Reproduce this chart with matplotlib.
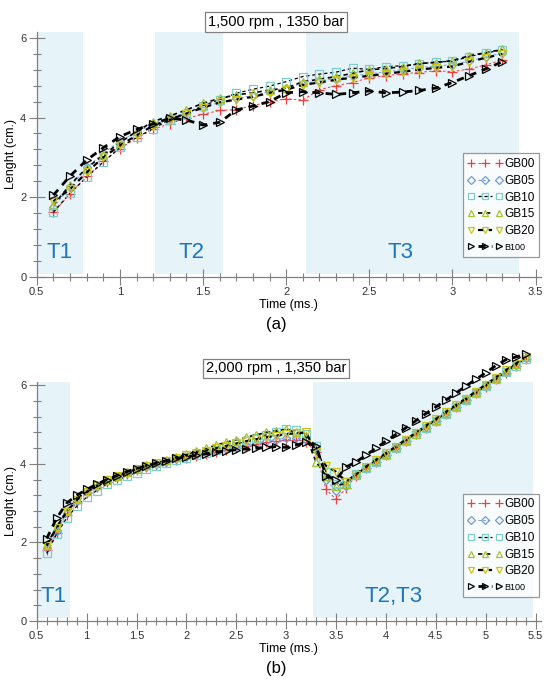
import matplotlib
matplotlib.use("Agg")
import matplotlib.pyplot as plt
import numpy as np
from matplotlib.ticker import MultipleLocator
from matplotlib.legend_handler import HandlerLine2DCompound

plt.rcParams['font.family'] = ['Liberation Sans', 'DejaVu Sans']

# ---- data ----
t_a = [0.6, 0.7, 0.8, 0.9, 1.0, 1.1, 1.2, 1.3, 1.4, 1.5, 1.6, 1.7, 1.8, 1.9,
       2.0, 2.1, 2.2, 2.3, 2.4, 2.5, 2.6, 2.7, 2.8, 2.9, 3.0, 3.1, 3.2, 3.3]
gb00_a = [1.62, 2.08, 2.52, 2.90, 3.22, 3.48, 3.70, 3.85, 3.98, 4.08, 4.18, 4.20, 4.30, 4.40,
          4.47, 4.44, 4.70, 4.80, 4.88, 5.00, 5.05, 5.10, 5.13, 5.18, 5.15, 5.22, 5.32, 5.45]
gb05_a = [1.75, 2.25, 2.75, 3.10, 3.42, 3.62, 3.85, 4.00, 4.12, 4.25, 4.38, 4.48, 4.55, 4.65,
          4.75, 4.85, 4.92, 4.98, 5.05, 5.10, 5.15, 5.20, 5.25, 5.30, 5.32, 5.42, 5.52, 5.62]
gb10_a = [1.62, 2.10, 2.50, 2.88, 3.25, 3.50, 3.72, 3.95, 4.10, 4.30, 4.45, 4.61, 4.71, 4.79,
          4.90, 5.03, 5.09, 5.14, 5.24, 5.21, 5.28, 5.30, 5.34, 5.40, 5.41, 5.53, 5.62, 5.70]
gb15_a = [1.80, 2.31, 2.73, 3.06, 3.37, 3.65, 3.90, 4.04, 4.19, 4.36, 4.48, 4.57, 4.62, 4.69,
          4.74, 4.90, 4.96, 5.03, 5.11, 5.20, 5.23, 5.28, 5.36, 5.38, 5.43, 5.55, 5.63, 5.71]
gb20_a = [1.90, 2.20, 2.62, 3.00, 3.30, 3.55, 3.80, 3.95, 4.10, 4.25, 4.38, 4.45, 4.52, 4.62,
          4.70, 4.82, 4.88, 4.95, 5.00, 5.05, 5.10, 5.15, 5.20, 5.25, 5.28, 5.40, 5.50, 5.60]
b100_a = [2.05, 2.53, 2.93, 3.24, 3.52, 3.70, 3.84, 3.98, 3.94, 3.81, 3.88, 4.19, 4.29, 4.40,
          4.62, 4.65, 4.62, 4.58, 4.62, 4.67, 4.62, 4.64, 4.68, 4.74, 4.88, 5.05, 5.22, 5.40]

t_b = [0.6, 0.7, 0.8, 0.9, 1.0, 1.1, 1.2, 1.3, 1.4, 1.5, 1.6, 1.7, 1.8, 1.9, 2.0, 2.1, 2.2,
       2.3, 2.4, 2.5, 2.6, 2.7, 2.8, 2.9, 3.0, 3.1, 3.2, 3.3, 3.4, 3.5, 3.6, 3.7, 3.8, 3.9,
       4.0, 4.1, 4.2, 4.3, 4.4, 4.5, 4.6, 4.7, 4.8, 4.9, 5.0, 5.1, 5.2, 5.3, 5.4]
gb00_b = [1.80, 2.25, 2.70, 3.00, 3.25, 3.40, 3.55, 3.65, 3.75, 3.85, 3.92, 3.98, 4.05, 4.10,
          4.15, 4.20, 4.25, 4.30, 4.35, 4.40, 4.45, 4.50, 4.55, 4.58, 4.62, 4.62, 4.55, 4.30,
          3.35, 3.10, 3.38, 3.70, 3.90, 4.05, 4.22, 4.40, 4.58, 4.75, 4.92, 5.10, 5.28, 5.45,
          5.62, 5.80, 5.97, 6.15, 6.32, 6.50, 6.68]
gb05_b = [1.85, 2.30, 2.75, 3.05, 3.28, 3.42, 3.56, 3.66, 3.76, 3.86, 3.93, 4.00, 4.06, 4.12,
          4.18, 4.23, 4.28, 4.33, 4.38, 4.43, 4.48, 4.53, 4.58, 4.62, 4.66, 4.66, 4.60, 4.40,
          3.60, 3.30, 3.45, 3.72, 3.92, 4.08, 4.25, 4.42, 4.60, 4.78, 4.95, 5.12, 5.30, 5.47,
          5.64, 5.82, 6.00, 6.17, 6.35, 6.52, 6.70]
gb10_b = [1.72, 2.22, 2.62, 2.92, 3.15, 3.32, 3.48, 3.58, 3.68, 3.78, 3.88, 3.95, 4.02, 4.10,
          4.16, 4.22, 4.28, 4.35, 4.42, 4.50, 4.58, 4.66, 4.74, 4.82, 4.88, 4.86, 4.75, 4.45,
          3.80, 3.50, 3.55, 3.75, 3.90, 4.05, 4.22, 4.40, 4.58, 4.75, 4.92, 5.10, 5.27, 5.45,
          5.62, 5.80, 5.98, 6.15, 6.33, 6.50, 6.68]
gb15_b = [1.95, 2.40, 2.80, 3.10, 3.30, 3.46, 3.60, 3.70, 3.80, 3.88, 3.96, 4.03, 4.10, 4.17,
          4.24, 4.32, 4.40, 4.48, 4.55, 4.62, 4.68, 4.74, 4.80, 4.85, 4.88, 4.80, 4.70, 4.05,
          3.70, 3.45, 3.50, 3.72, 3.92, 4.08, 4.25, 4.42, 4.60, 4.77, 4.95, 5.12, 5.30, 5.47,
          5.65, 5.82, 6.00, 6.18, 6.36, 6.54, 6.72]
gb20_b = [1.92, 2.38, 2.78, 3.08, 3.28, 3.44, 3.58, 3.68, 3.78, 3.87, 3.95, 4.02, 4.08, 4.15,
          4.22, 4.28, 4.34, 4.40, 4.46, 4.52, 4.58, 4.63, 4.68, 4.72, 4.76, 4.78, 4.80, 4.30,
          3.95, 3.80, 3.55, 3.73, 3.93, 4.10, 4.27, 4.44, 4.62, 4.79, 4.97, 5.14, 5.32, 5.49,
          5.66, 5.84, 6.02, 6.20, 6.38, 6.55, 6.72]
b100_b = [2.10, 2.62, 3.00, 3.20, 3.35, 3.48, 3.60, 3.70, 3.80, 3.88, 3.95, 4.02, 4.08, 4.14,
          4.18, 4.22, 4.26, 4.30, 4.33, 4.36, 4.38, 4.40, 4.42, 4.44, 4.42, 4.48, 4.55, 4.45,
          3.70, 3.60, 3.92, 4.05, 4.22, 4.40, 4.58, 4.75, 4.92, 5.10, 5.28, 5.45, 5.62, 5.80,
          5.98, 6.15, 6.32, 6.50, 6.65, 6.72, 6.80]

labels = ['GB00', 'GB05', 'GB10', 'GB15', 'GB20', 'B100']

# phase windows (start, end, label, label x, label y)
phases_a = [(0.5, 0.78, 'T1', 0.64, 0.62), (1.21, 1.62, 'T2', 1.43, 0.62),
            (2.12, 3.40, 'T3', 2.69, 0.62)]
phases_b = [(0.5, 0.83, 'T1', 0.67, 0.62), (3.265, 5.47, 'T2,T3', 4.08, 0.62)]

# marker / line styles per fuel
styles = [
    dict(marker='+', color='#f03c3c', mec='#f03c3c', mfc='none', lw=0.7, ms=7),
    dict(marker='D', color='#6f9be0', mec='#6f9be0', mfc='none', lw=0.7, ms=4.2),
    dict(marker='s', color='black', mec='#7fcccc', mfc='none', lw=0.9, ms=5.5),
    dict(marker='^', color='black', mec='#a2c232', mfc='none', lw=1.2, ms=5.5),
    dict(marker='v', color='black', mec='#c8c41c', mfc='none', lw=1.6, ms=5.5),
    dict(marker='>', color='black', mec='black', mfc='none', lw=2.0, ms=5.5),
]


class MidLine(HandlerLine2DCompound):
    # legend key: marker, short line with marker, marker
    def create_artists(self, legend, orig_handle, xdescent, ydescent, width, height,
                       fontsize, trans):
        arts = super().create_artists(legend, orig_handle, xdescent, ydescent, width,
                                      height, fontsize, trans)
        line = arts[0]
        y = line.get_ydata()[0]
        line.set_data([width * 0.3 - xdescent, width * 0.7 - xdescent], [y, y])
        return arts


fig = plt.figure(figsize=(5.46, 6.81), dpi=100)
ax1 = fig.add_axes([0.0673, 0.5935, 0.9236, 0.3602])
ax2 = fig.add_axes([0.0673, 0.0881, 0.9236, 0.3512])

series_a = [gb00_a, gb05_a, gb10_a, gb15_a, gb20_a, b100_a]
series_b = [gb00_b, gb05_b, gb10_b, gb15_b, gb20_b, b100_b]


def setup(ax, t, series, phases, xmax, ymax, leg_y):
    for x0, x1, name, lx, ly in phases:
        ax.axvspan(x0, x1, ymin=0.012, ymax=1, color='#e6f3f9', lw=0, zorder=0)
        ax.text(lx, ly, name, color='#1b76bd', fontsize=16, ha='center', va='center')
    for vals, lab, st in zip(series, labels, styles):
        ax.plot(t, vals, linestyle=(0, (2.6, 2.2)), label=lab, clip_on=False, mew=0.9, **st)
    ax.set_xlim(0.5, xmax)
    ax.set_ylim(0, ymax)
    ticks = np.arange(0.5, xmax, 0.5)
    ax.set_xticks(ticks)
    ax.set_xticklabels(['%g' % v for v in ticks])
    ax.xaxis.set_minor_locator(MultipleLocator(0.1))
    ax.yaxis.set_major_locator(MultipleLocator(2))
    ax.yaxis.set_minor_locator(MultipleLocator(0.4))
    for s in ['top', 'right']:
        ax.spines[s].set_visible(False)
    for s in ['left', 'bottom']:
        ax.spines[s].set_color('#808080')
        ax.spines[s].set_linewidth(0.9)
    ax.tick_params(which='major', direction='inout', length=11, width=0.8, color='#808080',
                   labelsize=8, labelcolor='#333333', pad=2)
    ax.tick_params(which='minor', direction='inout', length=6, width=0.8, color='#808080')
    ax.set_xlabel('Time (ms.)', fontsize=9, labelpad=1)
    ax.set_ylabel('Lenght (cm.)', fontsize=9, labelpad=2)
    ax.set_facecolor('none')
    leg = ax.legend(loc='lower right', bbox_to_anchor=(0.996, leg_y), numpoints=3,
                    handlelength=3.0, handletextpad=0.1, labelspacing=0.4, fontsize=8.5,
                    frameon=True, fancybox=False, borderpad=0.4, borderaxespad=0,
                    markerscale=0.9,
                    handler_map={matplotlib.lines.Line2D: MidLine()})
    leg.get_frame().set_edgecolor('#808080')
    leg.get_frame().set_linewidth(0.9)
    leg.get_texts()[-1].set_fontsize(6.5)


setup(ax1, t_a, series_a, phases_a, 3.533, 6.16, 0.082)
setup(ax2, t_b, series_b, phases_b, 5.555, 6.09, 0.10)

fig.text(0.506, 0.968, '1,500 rpm , 1350 bar', ha='center', va='center', fontsize=10.5,
         bbox=dict(boxstyle='square,pad=0.2', fc='white', ec='#808080', lw=0.9))
fig.text(0.506, 0.459, '2,000 rpm , 1,350 bar', ha='center', va='center', fontsize=10.5,
         bbox=dict(boxstyle='square,pad=0.2', fc='white', ec='#808080', lw=0.9))
fig.text(0.506, 0.524, '(a)', ha='center', va='center', fontsize=12)
fig.text(0.506, 0.019, '(b)', ha='center', va='center', fontsize=12)

fig.savefig('out.png', dpi=100)
